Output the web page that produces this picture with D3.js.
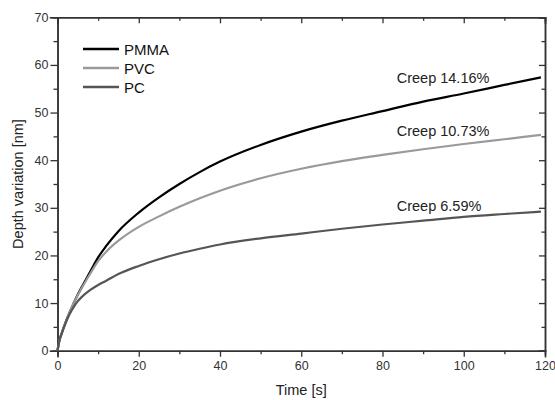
<!DOCTYPE html>
<html>
<head>
<meta charset="utf-8">
<script src="https://cdn.jsdelivr.net/npm/d3@7"></script>
<style>
  body { margin: 0; background: #fff; }
  svg { font-family: "Liberation Sans", Arial, sans-serif; }
</style>
</head>
<body>
<svg width="555" height="400"></svg>
<script>
// values
let time = [0, 0.5, 1, 2, 3, 4, 5, 6, 8, 10, 12, 15, 20, 25, 30, 35, 40, 50, 60, 70, 80, 90, 100, 110, 119];
let pmma = [0, 2.3, 3.6, 6, 8.1, 10, 11.8, 13.4, 16.5, 19.6, 22, 25.1, 29, 32.2, 35, 37.5, 39.7, 43.2, 46, 48.3, 50.3, 52.3, 54, 55.8, 57.4];
let pvc  = [0, 2.3, 3.6, 6, 8.1, 10, 11.7, 13.2, 16.1, 18.8, 20.8, 23.1, 26, 28.2, 30.2, 32, 33.6, 36.2, 38.2, 39.8, 41.1, 42.3, 43.4, 44.4, 45.3];
let pc   = [0, 2.2, 3.5, 5.8, 7.7, 9.2, 10.4, 11.3, 12.7, 13.8, 14.7, 16.1, 17.8, 19.2, 20.4, 21.4, 22.3, 23.6, 24.6, 25.6, 26.5, 27.3, 28.1, 28.7, 29.2];

let seriesNames = ["PMMA", "PVC", "PC"];
let seriesColors = ["#000000", "#9a9a9a", "#555555"];
let creepLabels = ["Creep 14.16%", "Creep 10.73%", "Creep 6.59%"];
let creepAt = [[83.5, 56.2], [83.5, 45], [83.5, 29.4]];  // [time, depth] of each label's baseline start

let xTicks = [0, 20, 40, 60, 80, 100, 120];
let yTicks = [0, 10, 20, 30, 40, 50, 60, 70];

let width = 555, height = 400;
let margin = {top: 17.3, right: 10, bottom: 49.3, left: 57.5};

let svg = d3.select("svg");

let x = d3.scaleLinear().domain([0, 120]).range([margin.left, width - margin.right]);
let y = d3.scaleLinear().domain([0, 70]).range([height - margin.bottom, margin.top]);

let axisColor = "#333";

// minor ticks
let xMinor = d3.range(10, 120, 20);
let yMinor = d3.range(5, 70, 10);

function styleAxis(g) {
  g.select(".domain").attr("stroke", axisColor).attr("stroke-width", 1.5);
  g.selectAll(".tick line").attr("stroke", axisColor).attr("stroke-width", 1.3);
  g.selectAll(".tick text").attr("fill", "#333").style("font-size", "12.5px");
}

// bottom
svg.append("g")
    .attr("transform", "translate(0," + y(0) + ")")
    .call(d3.axisBottom(x).tickValues(xTicks).tickSize(6).tickPadding(4))
    .call(styleAxis);
svg.append("g")
    .attr("transform", "translate(0," + y(0) + ")")
    .call(d3.axisBottom(x).tickValues(xMinor).tickSize(3.5).tickFormat(""))
    .call(styleAxis);

// left
svg.append("g")
    .attr("transform", "translate(" + x(0) + ",0)")
    .call(d3.axisLeft(y).tickValues(yTicks).tickSize(7).tickPadding(2))
    .call(styleAxis);
svg.append("g")
    .attr("transform", "translate(" + x(0) + ",0)")
    .call(d3.axisLeft(y).tickValues(yMinor).tickSize(4).tickFormat(""))
    .call(styleAxis);

// top, ticks pointing in
svg.append("g")
    .attr("transform", "translate(0," + y(70) + ")")
    .call(d3.axisTop(x).tickValues(xTicks).tickSize(-6).tickFormat(""))
    .call(styleAxis);
svg.append("g")
    .attr("transform", "translate(0," + y(70) + ")")
    .call(d3.axisTop(x).tickValues(xMinor).tickSize(-3.5).tickFormat(""))
    .call(styleAxis);

// right, ticks pointing in
svg.append("g")
    .attr("transform", "translate(" + x(120) + ",0)")
    .call(d3.axisRight(y).tickValues(yTicks).tickSize(-6).tickFormat(""))
    .call(styleAxis);
svg.append("g")
    .attr("transform", "translate(" + x(120) + ",0)")
    .call(d3.axisRight(y).tickValues(yMinor).tickSize(-3.5).tickFormat(""))
    .call(styleAxis);

svg.selectAll(".domain").attr("stroke-linecap", "square");

// lines
let series = [pmma, pvc, pc];
let line = d3.line()
    .x((d, i) => x(time[i]))
    .y(d => y(d))
    .curve(d3.curveMonotoneX);

svg.append("g")
    .selectAll("path")
    .data(series)
    .enter()
    .append("path")
    .attr("d", line)
    .attr("fill", "none")
    .attr("stroke", (d, i) => seriesColors[i])
    .attr("stroke-width", 2.2);

// creep labels
svg.append("g")
    .selectAll("text")
    .data(creepLabels)
    .enter()
    .append("text")
    .attr("x", (d, i) => x(creepAt[i][0]))
    .attr("y", (d, i) => y(creepAt[i][1]))
    .attr("fill", "#222")
    .style("font-size", "14.5px")
    .text(d => d);

// legend
let legend = svg.append("g").attr("transform", "translate(83,49)");
seriesNames.forEach((name, i) => {
  let row = legend.append("g").attr("transform", "translate(0," + (i * 19) + ")");
  row.append("line")
      .attr("x1", 0).attr("x2", 36)
      .attr("stroke", seriesColors[i])
      .attr("stroke-width", 2.5);
  row.append("text")
      .attr("x", 41)
      .attr("y", 5.5)
      .attr("fill", "#111")
      .style("font-size", "15px")
      .text(name);
});

// axis titles
svg.append("text")
    .attr("x", (margin.left + width - margin.right) / 2)
    .attr("y", 395)
    .attr("text-anchor", "middle")
    .attr("fill", "#222")
    .style("font-size", "14.5px")
    .text("Time [s]");

svg.append("text")
    .attr("transform", "translate(23," + ((margin.top + height - margin.bottom) / 2) + ") rotate(-90)")
    .attr("text-anchor", "middle")
    .attr("fill", "#222")
    .style("font-size", "14.5px")
    .text("Depth variation [nm]");
</script>
</body>
</html>
